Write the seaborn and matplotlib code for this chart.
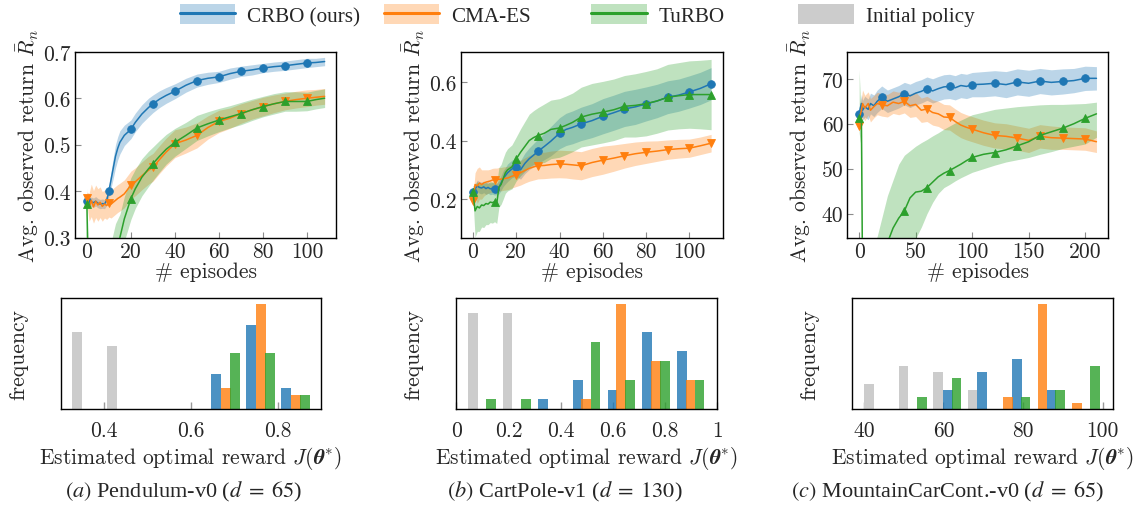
import numpy as np
import pandas as pd
import matplotlib
matplotlib.use("Agg")
import matplotlib.pyplot as plt
import seaborn as sns
from matplotlib.patches import Patch
from matplotlib.lines import Line2D
from matplotlib.legend_handler import HandlerTuple

# ---------------- data: learning curves ----------------
# (a) Pendulum-v0
XA = [0, 1, 2, 3, 4, 5, 6, 7, 8, 9, 10, 11, 12, 13, 14, 15, 17, 20, 22, 25,
      28, 30, 33, 36, 40, 45, 50, 55, 60, 65, 70, 75, 80, 85, 90, 95, 100, 104, 108]
A_crbo = [0.379, 0.376, 0.377, 0.375, 0.378, 0.374, 0.372, 0.373, 0.372, 0.380, 0.400,
          0.425, 0.450, 0.475, 0.492, 0.505, 0.520, 0.533, 0.548, 0.566, 0.580, 0.588,
          0.598, 0.606, 0.615, 0.628, 0.638, 0.643, 0.646, 0.653, 0.658, 0.661, 0.665,
          0.668, 0.670, 0.673, 0.676, 0.677, 0.679]
A_crbo_sd = [0.008, 0.010, 0.010, 0.010, 0.010, 0.010, 0.010, 0.010, 0.010, 0.011, 0.012,
             0.018, 0.022, 0.025, 0.025, 0.025, 0.022, 0.020, 0.020, 0.020, 0.020, 0.019,
             0.018, 0.017, 0.016, 0.015, 0.014, 0.013, 0.012, 0.012, 0.011, 0.011, 0.010,
             0.010, 0.010, 0.010, 0.010, 0.009, 0.009]
A_cma = [0.386, 0.365, 0.380, 0.366, 0.378, 0.370, 0.376, 0.367, 0.372, 0.369, 0.374,
         0.372, 0.376, 0.380, 0.384, 0.387, 0.394, 0.413, 0.420, 0.433, 0.445, 0.451,
         0.468, 0.484, 0.502, 0.510, 0.520, 0.537, 0.550, 0.557, 0.567, 0.575, 0.582,
         0.588, 0.593, 0.597, 0.600, 0.602, 0.604]
A_cma_sd = [0.012, 0.030, 0.035, 0.035, 0.035, 0.035, 0.033, 0.032, 0.030, 0.030, 0.030,
            0.030, 0.030, 0.030, 0.030, 0.030, 0.030, 0.030, 0.030, 0.030, 0.030, 0.030,
            0.030, 0.030, 0.030, 0.028, 0.027, 0.025, 0.024, 0.022, 0.021, 0.020, 0.020,
            0.019, 0.018, 0.018, 0.018, 0.017, 0.017]
A_tur = [0.372, 0.120, 0.100, 0.110, 0.120, 0.130, 0.150, 0.160, 0.180, 0.190, 0.210,
         0.230, 0.250, 0.270, 0.285, 0.300, 0.340, 0.384, 0.405, 0.430, 0.448, 0.459,
         0.475, 0.490, 0.505, 0.520, 0.536, 0.545, 0.553, 0.560, 0.567, 0.575, 0.582,
         0.588, 0.593, 0.593, 0.593, 0.597, 0.600]
A_tur_sd = [0.035, 0.060, 0.060, 0.060, 0.060, 0.060, 0.060, 0.060, 0.060, 0.060, 0.060,
            0.060, 0.060, 0.060, 0.055, 0.050, 0.048, 0.045, 0.042, 0.040, 0.038, 0.036,
            0.034, 0.032, 0.030, 0.028, 0.027, 0.026, 0.025, 0.024, 0.024, 0.023, 0.022,
            0.022, 0.021, 0.021, 0.020, 0.020, 0.020]

# (b) CartPole-v1
XB = [0, 1, 2, 3, 4, 5, 6, 7, 8, 9, 10, 11, 12, 13, 14, 15, 16, 18, 20, 22, 24,
      26, 28, 30, 33, 36, 40, 43, 46, 50, 55, 60, 65, 70, 75, 80, 85, 90, 95, 100, 105, 110]
B_crbo = [0.223, 0.235, 0.245, 0.240, 0.238, 0.242, 0.236, 0.240, 0.235, 0.237, 0.234,
          0.235, 0.240, 0.255, 0.270, 0.280, 0.290, 0.303, 0.308, 0.300, 0.322, 0.338,
          0.350, 0.363, 0.380, 0.398, 0.425, 0.438, 0.445, 0.457, 0.468, 0.483, 0.495,
          0.508, 0.515, 0.525, 0.535, 0.548, 0.555, 0.566, 0.578, 0.594]
B_crbo_sd = [0.010, 0.015, 0.020, 0.020, 0.020, 0.020, 0.020, 0.020, 0.020, 0.020, 0.020,
             0.020, 0.022, 0.025, 0.027, 0.028, 0.030, 0.030, 0.030, 0.032, 0.035, 0.037,
             0.040, 0.042, 0.045, 0.050, 0.053, 0.055, 0.056, 0.057, 0.058, 0.060, 0.060,
             0.060, 0.060, 0.058, 0.057, 0.056, 0.055, 0.055, 0.055, 0.055]
B_cma = [0.194, 0.250, 0.245, 0.255, 0.250, 0.255, 0.258, 0.260, 0.262, 0.265, 0.266,
         0.266, 0.268, 0.268, 0.270, 0.271, 0.272, 0.278, 0.283, 0.290, 0.298, 0.305,
         0.310, 0.314, 0.315, 0.318, 0.320, 0.319, 0.317, 0.314, 0.325, 0.333, 0.340,
         0.348, 0.355, 0.360, 0.364, 0.369, 0.372, 0.374, 0.382, 0.391]
B_cma_sd = [0.010, 0.040, 0.060, 0.055, 0.050, 0.045, 0.042, 0.040, 0.040, 0.040, 0.040,
            0.040, 0.040, 0.040, 0.040, 0.040, 0.040, 0.040, 0.040, 0.042, 0.043, 0.044,
            0.045, 0.045, 0.045, 0.046, 0.047, 0.047, 0.048, 0.048, 0.048, 0.048, 0.045,
            0.042, 0.040, 0.038, 0.035, 0.033, 0.032, 0.031, 0.030, 0.030]
B_tur = [0.226, 0.160, 0.175, 0.170, 0.180, 0.178, 0.185, 0.183, 0.190, 0.188, 0.191,
         0.185, 0.240, 0.250, 0.270, 0.290, 0.300, 0.310, 0.337, 0.360, 0.380, 0.400,
         0.410, 0.417, 0.425, 0.438, 0.443, 0.452, 0.462, 0.480, 0.490, 0.497, 0.505,
         0.517, 0.520, 0.526, 0.535, 0.548, 0.553, 0.557, 0.557, 0.557]
B_tur_sd = [0.020, 0.090, 0.085, 0.080, 0.075, 0.075, 0.072, 0.070, 0.070, 0.070, 0.068,
            0.068, 0.068, 0.068, 0.070, 0.070, 0.072, 0.075, 0.075, 0.080, 0.085, 0.090,
            0.092, 0.095, 0.100, 0.100, 0.100, 0.100, 0.100, 0.102, 0.105, 0.105, 0.105,
            0.105, 0.108, 0.110, 0.110, 0.112, 0.113, 0.115, 0.117, 0.120]

# (c) MountainCarContinuous-v0
XC = [0, 1, 2, 3, 5, 8, 10, 13, 16, 20, 25, 30, 35, 40, 45, 50, 55, 60, 65, 70, 75,
      80, 85, 90, 95, 100, 110, 120, 130, 140, 150, 160, 170, 180, 190, 200, 210]
C_crbo = [62.2, 63.5, 64.5, 63.0, 63.8, 63.2, 64.5, 64.0, 65.0, 65.9, 65.0, 65.5, 66.0,
          66.7, 66.2, 66.8, 67.2, 67.8, 67.3, 67.8, 68.2, 68.3, 68.0, 68.5, 68.3, 68.7,
          68.8, 69.0, 68.7, 69.3, 69.0, 69.5, 69.2, 69.4, 69.6, 70.1, 70.1]
C_crbo_sd = [0.7, 1.5, 2.0, 2.2, 2.3, 2.3, 2.3, 2.4, 2.5, 2.5, 2.5, 2.5, 2.5, 2.5, 2.6,
             2.6, 2.6, 2.6, 2.7, 2.7, 2.7, 2.7, 2.7, 2.7, 2.7, 2.7, 2.8, 2.8, 2.9, 2.9,
             2.9, 2.8, 2.8, 2.8, 2.7, 2.7, 2.6]
C_cma = [59.6, 62.0, 63.0, 64.5, 63.5, 64.5, 63.0, 63.8, 64.5, 64.2, 64.0, 64.8, 64.5,
         65.0, 64.0, 64.3, 63.0, 63.3, 62.5, 62.2, 61.5, 61.4, 60.5, 59.7, 59.2, 58.8,
         58.0, 57.4, 57.2, 56.8, 56.3, 57.2, 56.9, 56.8, 56.7, 56.6, 56.0]
C_cma_sd = [0.7, 2.5, 2.8, 3.0, 2.8, 2.6, 2.6, 2.5, 2.5, 2.5, 2.5, 2.5, 2.5, 2.6, 2.6,
            2.7, 2.7, 2.8, 2.8, 2.8, 2.8, 2.8, 2.8, 2.8, 2.8, 2.8, 2.8, 2.8, 2.8, 2.7,
            2.7, 2.6, 2.6, 2.5, 2.5, 2.5, 2.4]
C_tur = [61.2, 61.0, 60.5, 25.0, 22.0, 22.0, 23.0, 25.0, 27.0, 30.0, 33.5, 36.8, 39.0,
         40.6, 43.5, 44.8, 45.0, 45.8, 47.0, 48.2, 49.0, 49.6, 50.3, 51.0, 51.8, 52.5,
         53.2, 53.6, 54.2, 55.1, 56.0, 57.4, 58.2, 59.0, 60.0, 61.2, 62.2]
C_tur_lo = [58.0, 56.0, 55.0, 10.0, 10.0, 10.0, 10.0, 12.0, 14.0, 17.0, 20.0, 23.0, 26.0,
            29.0, 32.0, 34.5, 37.0, 40.0, 42.5, 44.5, 45.8, 46.5, 47.3, 48.0, 48.6, 49.2,
            50.0, 50.8, 51.5, 52.0, 52.5, 53.2, 53.8, 54.5, 55.0, 55.5, 57.0]
C_tur_hi = [72.0, 66.0, 62.0, 30.0, 30.0, 30.0, 31.0, 33.0, 35.0, 39.0, 44.0, 47.5, 51.0,
            53.0, 54.0, 55.0, 55.8, 56.5, 57.3, 58.0, 58.8, 59.5, 60.2, 60.8, 61.4, 62.0,
            62.6, 63.2, 63.5, 63.8, 64.0, 64.2, 64.3, 64.3, 64.4, 64.5, 64.8]

# ---------------- data: histograms (first bin centre, counts) --------
HA_width = 0.081
HA_init = (0.336, [11, 9])
HA_crbo = (0.658, [5, 12, 3])
HA_cma = (0.680, [3, 15, 2])
HA_tur = (0.702, [8, 8, 2])

HB_width = 0.133
HB_init = (0.063, [10, 10])
HB_crbo = (0.332, [1, 3, 2, 8, 6])
HB_cma = (0.498, [1, 11, 5, 3])
HB_tur = (0.134, [1, 1, 0, 7, 3, 5, 3])

HC_width = 8.68
HC_init = (41.26, [4, 7, 6, 3])
HC_crbo = (61.07, [3, 6, 8, 3])
HC_cma = (76.16, [2, 17, 1])
HC_tur = (54.58, [2, 5, 0, 2, 3, 7])

# ---------------- text ----------------
methods = ["CRBO (ours)", "CMA-ES", "TuRBO", "Initial policy"]
captions = [r"$(a)$ Pendulum-v0 ($d\;=\;65$)",
            r"$(b)$ CartPole-v1 ($d\;=\;130$)",
            r"$(c)$ MountainCarCont.-v0 ($d\;=\;65$)"]
top_xticks = [[0, 20, 40, 60, 80, 100], [0, 20, 40, 60, 80, 100], [0, 50, 100, 150, 200]]
top_yticks = [[0.3, 0.4, 0.5, 0.6, 0.7], [0.2, 0.4, 0.6], [40, 50, 60, 70]]
top_yticklabels = [["0.3", "0.4", "0.5", "0.6", "0.7"], ["0.2", "0.4", "0.6"],
                   ["40", "50", "60", "70"]]
hist_xticks = [[0.4, 0.6, 0.8], [0, 0.2, 0.4, 0.6, 0.8, 1], [40, 60, 80, 100]]
hist_xticklabels = [["0.4", "0.6", "0.8"], ["0", "0.2", "0.4", "0.6", "0.8", "1"],
                    ["40", "60", "80", "100"]]

# ---------------- style ----------------
sns.set_theme(style="white")
plt.rcParams.update({
    "font.family": ["cmr10"],
    "mathtext.fontset": "cm",
    "axes.formatter.use_mathtext": True,
    "axes.edgecolor": "black",
    "axes.linewidth": 1.0,
    "axes.unicode_minus": False,
})

C_BLUE, C_ORANGE, C_GREEN, C_GREY = "#1f77b4", "#ff7f0e", "#2ca02c", "#cccccc"
W, H = 1146, 506
fig = plt.figure(figsize=(W / 100, H / 100), dpi=100)


def px_axes(l, r, t, b):
    return fig.add_axes([l / W, 1 - b / H, (r - l) / W, (b - t) / H])


top_axes = [px_axes(75, 336.5, 52.8, 238.5), px_axes(461, 723, 52.8, 238.5),
            px_axes(847.3, 1108.3, 52.8, 238.5)]
hist_axes = [px_axes(61, 321, 299.3, 410), px_axes(456.3, 717.3, 299.3, 410),
             px_axes(852.3, 1112.7, 299.3, 410)]

TICK_FS = 15.5

top_data = [
    (XA, [(A_crbo, A_crbo_sd), (A_cma, A_cma_sd), (A_tur, A_tur_sd)], 10, (-5.4, 113.4), (0.3, 0.7)),
    (XB, [(B_crbo, B_crbo_sd), (B_cma, B_cma_sd), (B_tur, B_tur_sd)], 10, (-5.5, 115.5), (0.069, 0.703)),
    (XC, [(C_crbo, C_crbo_sd), (C_cma, C_cma_sd), (C_tur, None)], 20, (-10.5, 220.5), (34.7, 76.0)),
]
colors = [C_BLUE, C_ORANGE, C_GREEN]
markers = ["o", "v", "^"]
msizes = [5.5, 6, 6]

for i, (ax, (x, series, step, xl, yl)) in enumerate(zip(top_axes, top_data)):
    xa = np.asarray(x, dtype=float)
    for k, ((m, sd), c) in enumerate(zip(series, colors)):
        m = np.asarray(m, dtype=float)
        if sd is None:
            lo, hi = np.asarray(C_tur_lo), np.asarray(C_tur_hi)
        else:
            lo, hi = m - np.asarray(sd), m + np.asarray(sd)
        ax.fill_between(xa, lo, hi, color=c, alpha=0.3, linewidth=0, zorder=1)
    mev = [j for j, v in enumerate(x) if v % step == 0]
    for k, ((m, sd), c) in enumerate(zip(series, colors)):
        df = pd.DataFrame({"x": xa, "y": np.asarray(m, dtype=float)})
        sns.lineplot(data=df, x="x", y="y", ax=ax, color=c, lw=1.1,
                     marker=markers[k], markersize=msizes[k], markevery=mev,
                     markeredgewidth=0.6, markeredgecolor=c, estimator=None,
                     sort=False, zorder=3 + k)
    ax.set_xlim(*xl)
    ax.set_ylim(*yl)
    ax.set_xticks(top_xticks[i])
    ax.set_xticklabels([str(t) for t in top_xticks[i]])
    ax.set_yticks(top_yticks[i])
    ax.set_yticklabels(top_yticklabels[i])
    ax.tick_params(direction="in", length=4, width=0.8, color="0.55",
                   labelsize=TICK_FS, pad=3, bottom=True, left=True)
    ax.set_xlabel("# episodes", fontsize=TICK_FS)
    ax.set_ylabel(r"Avg. observed return $\bar{R}_n$", fontsize=TICK_FS)
    ax.xaxis.set_label_coords(0.5, -0.128)
    ax.yaxis.set_label_coords(-0.130, 0.5)
    for s in ax.spines.values():
        s.set_visible(True)
        s.set_color("black")
        s.set_linewidth(1.0)

hist_data = [
    (HA_width, [HA_init, HA_crbo, HA_cma, HA_tur], (0.3, 0.9)),
    (HB_width, [HB_init, HB_crbo, HB_cma, HB_tur], (0.0, 1.0)),
    (HC_width, [HC_init, HC_crbo, HC_cma, HC_tur], (37.1, 102.5)),
]
hist_colors = [C_GREY, C_BLUE, C_ORANGE, C_GREEN]
hist_alpha = [1.0, 0.8, 0.8, 0.8]

for i, (ax, (bw, groups, xl)) in enumerate(zip(hist_axes, hist_data)):
    top = 0
    for (start, counts), c, a in zip(groups, hist_colors, hist_alpha):
        n = len(counts)
        centers = start + bw * np.arange(n)
        edges = [float(e) for e in np.append(centers - bw / 2, centers[-1] + bw / 2)]
        df = pd.DataFrame({"v": centers, "w": np.asarray(counts, dtype=float)})
        sns.histplot(data=df, x="v", weights="w", bins=edges, shrink=0.28, color=c,
                     alpha=a, edgecolor="none", linewidth=0, ax=ax, zorder=2)
        top = max(top, max(counts))
    ax.set_xlim(*xl)
    ax.set_ylim(0, top * 1.05)
    ax.set_yticks([])
    ax.set_xticks(hist_xticks[i])
    ax.set_xticklabels(hist_xticklabels[i])
    ax.tick_params(axis="x", direction="in", length=5, width=1.0, color="0.6",
                   labelsize=TICK_FS, pad=8, bottom=True)
    ax.set_ylabel("frequency", fontsize=TICK_FS)
    ax.set_xlabel(r"Estimated optimal reward $J(\boldsymbol{\theta}^{*})$", fontsize=TICK_FS)
    ax.xaxis.set_label_coords(0.5, -0.315)
    ax.yaxis.set_label_coords(-0.126, 0.5)
    for s in ax.spines.values():
        s.set_visible(True)
        s.set_color("black")
        s.set_linewidth(1.0)

# ---------------- legend ----------------
LEG_FS = 15.2
handles = [
    (Patch(facecolor=C_BLUE, alpha=0.3, edgecolor="none"), Line2D([], [], color=C_BLUE, lw=2.2)),
    (Patch(facecolor=C_ORANGE, alpha=0.3, edgecolor="none"), Line2D([], [], color=C_ORANGE, lw=2.2)),
    (Patch(facecolor=C_GREEN, alpha=0.3, edgecolor="none"), Line2D([], [], color=C_GREEN, lw=2.2)),
    Patch(facecolor=C_GREY, edgecolor="none"),
]
leg_x = [179.5, 383.5, 591, 798]
for h, lab, xp in zip(handles, methods, leg_x):
    fig.legend(handles=[h], labels=[lab], loc="center left",
               bbox_to_anchor=(xp / W, 1 - 16.3 / H), frameon=False, borderpad=0,
               borderaxespad=0, handlelength=2.65, handleheight=1.08, handletextpad=0.55,
               prop={"family": "Liberation Serif", "size": LEG_FS},
               handler_map={tuple: HandlerTuple(ndivide=1)})

# ---------------- captions ----------------
cap_x = [183, 565, 947]
for cx, cap in zip(cap_x, captions):
    fig.text(cx / W, 1 - 492 / H, cap, ha="center", va="center", fontsize=16,
             family="Liberation Serif", math_fontfamily="stix")

fig.savefig("out.png", dpi=100)
